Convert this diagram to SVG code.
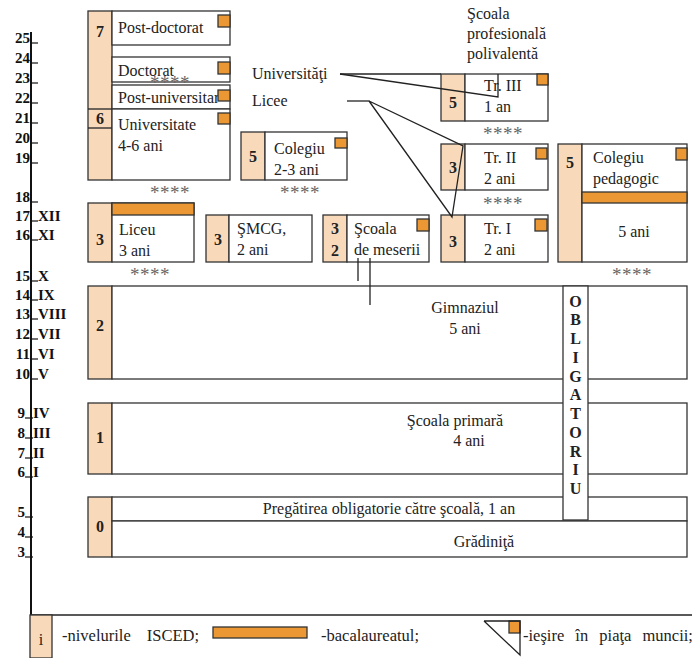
<svg xmlns="http://www.w3.org/2000/svg" width="692" height="658" viewBox="0 0 692 658">
<style>
.pe{fill:#F8DABA;stroke:#333;stroke-width:1.3}
.bx{fill:#fff;stroke:#333;stroke-width:1.3}
.sq{fill:#EB9733;stroke:#333;stroke-width:1.3}
.t{font-family:"Liberation Serif",serif;font-size:16px;fill:#222}
.c{text-anchor:middle}
.lv{font-family:"Liberation Serif",serif;font-size:16px;font-weight:bold;fill:#222;text-anchor:middle}
.ax{font-family:"Liberation Serif",serif;font-size:15px;font-weight:bold;fill:#111}
.ae{text-anchor:end}
.st{font-family:"Liberation Serif",serif;font-size:19px;fill:#666;text-anchor:middle;letter-spacing:0.5px}
.ln{stroke:#222;stroke-width:1.3;fill:none}
.tk{stroke:#111;stroke-width:1.2}
</style>
<rect width="692" height="658" fill="#fff"/>

<g id="axis">
<line x1="31" y1="32" x2="31" y2="615" stroke="#111" stroke-width="2"/>
<g class="tk">
<line x1="31" y1="43" x2="38" y2="43"/><line x1="31" y1="63" x2="38" y2="63"/><line x1="31" y1="83" x2="38" y2="83"/>
<line x1="31" y1="103" x2="38" y2="103"/><line x1="31" y1="123" x2="38" y2="123"/><line x1="31" y1="143" x2="38" y2="143"/>
<line x1="31" y1="163" x2="38" y2="163"/><line x1="31" y1="202" x2="38" y2="202"/><line x1="31" y1="221" x2="38" y2="221"/>
<line x1="31" y1="240" x2="38" y2="240"/><line x1="31" y1="281" x2="38" y2="281"/><line x1="31" y1="300" x2="38" y2="300"/>
<line x1="31" y1="319" x2="38" y2="319"/><line x1="31" y1="339" x2="38" y2="339"/><line x1="31" y1="359" x2="38" y2="359"/>
<line x1="31" y1="379" x2="38" y2="379"/>
<line x1="25" y1="418" x2="33" y2="418"/><line x1="25" y1="438" x2="33" y2="438"/><line x1="25" y1="458" x2="33" y2="458"/>
<line x1="25" y1="477" x2="33" y2="477"/><line x1="25" y1="517" x2="33" y2="517"/><line x1="25" y1="537" x2="33" y2="537"/>
<line x1="25" y1="557" x2="33" y2="557"/>
</g>
<g class="ax">
<text class="ae" x="30" y="43">25</text><text class="ae" x="30" y="63">24</text><text class="ae" x="30" y="83">23</text>
<text class="ae" x="30" y="103">22</text><text class="ae" x="30" y="123">21</text><text class="ae" x="30" y="143">20</text>
<text class="ae" x="30" y="163">19</text><text class="ae" x="30" y="202">18</text><text class="ae" x="30" y="221">17</text>
<text class="ae" x="30" y="240">16</text><text class="ae" x="30" y="281">15</text><text class="ae" x="30" y="300">14</text>
<text class="ae" x="30" y="319">13</text><text class="ae" x="30" y="339">12</text><text class="ae" x="30" y="359">11</text>
<text class="ae" x="30" y="379">10</text>
<text class="ae" x="25" y="418">9</text><text class="ae" x="25" y="438">8</text><text class="ae" x="25" y="458">7</text>
<text class="ae" x="25" y="477">6</text><text class="ae" x="25" y="517">5</text><text class="ae" x="25" y="537">4</text>
<text class="ae" x="25" y="557">3</text>
<text x="38" y="221">XII</text><text x="38" y="240">XI</text><text x="38" y="281">X</text><text x="38" y="300">IX</text>
<text x="38" y="319">VIII</text><text x="38" y="339">VII</text><text x="38" y="359">VI</text><text x="38" y="379">V</text>
<text x="33" y="418">IV</text><text x="33" y="438">III</text><text x="33" y="458">II</text><text x="33" y="477">I</text>
</g>
</g>

<g id="level7-6">
<rect class="pe" x="88" y="11" width="24" height="169"/>
<line class="ln" x1="88" y1="109" x2="112" y2="109"/>
<line class="ln" x1="88" y1="128" x2="112" y2="128"/>
<text class="lv" x="100" y="37">7</text>
<text class="lv" x="100" y="124">6</text>
</g>
<g id="post-doctorat">
<rect class="bx" x="112" y="11" width="118" height="34"/>
<rect class="sq" x="218" y="15" width="12" height="12"/>
<text class="t" x="118" y="33">Post-doctorat</text>
</g>
<g id="doctorat">
<rect class="bx" x="112" y="57" width="118" height="25"/>
<rect class="sq" x="218" y="62" width="12" height="12"/>
<text class="t" x="118" y="76">Doctorat</text>
</g>
<g id="post-universitar">
<rect class="bx" x="112" y="85" width="118" height="24"/>
<text class="t" x="118" y="103">Post-universitar</text>
<rect class="sq" x="218" y="90" width="12" height="11"/>
</g>
<g id="universitate">
<rect class="bx" x="112" y="109" width="118" height="71"/>
<rect class="sq" x="218" y="113" width="12" height="11"/>
<text class="t" x="118" y="130">Universitate</text>
<text class="t" x="118" y="151">4-6 ani</text>
</g>

<g id="colegiu">
<rect class="pe" x="241" y="132" width="24" height="48"/>
<rect class="bx" x="265" y="132" width="82" height="48"/>
<rect class="sq" x="335" y="138" width="12" height="10"/>
<text class="lv" x="253" y="162">5</text>
<text class="t" x="274" y="154">Colegiu</text>
<text class="t" x="274" y="175">2-3 ani</text>
</g>

<g id="labels">
<text class="t" x="252" y="79">Universităţi</text>
<text class="t" x="252" y="106">Licee</text>
<text class="t" x="467" y="19">Şcoala</text>
<text class="t" x="467" y="39">profesională</text>
<text class="t" x="467" y="59">polivalentă</text>
</g>

<g id="tr3">
<rect class="pe" x="441" y="74" width="24" height="47"/>
<rect class="bx" x="465" y="74" width="83" height="47"/>
<rect class="sq" x="537" y="74" width="11" height="11"/>
<text class="lv" x="453" y="108">5</text>
<text class="t" x="484" y="91">Tr. III</text>
<text class="t" x="484" y="112">1 an</text>
</g>
<g id="tr2">
<rect class="pe" x="441" y="144" width="24" height="46"/>
<rect class="bx" x="465" y="144" width="83" height="46"/>
<rect class="sq" x="536" y="148" width="11" height="11"/>
<text class="lv" x="453" y="173">3</text>
<text class="t" x="484" y="163">Tr. II</text>
<text class="t" x="484" y="184">2 ani</text>
</g>
<g id="tr1">
<rect class="pe" x="441" y="215" width="24" height="47"/>
<rect class="bx" x="465" y="215" width="83" height="47"/>
<rect class="sq" x="535" y="219" width="12" height="12"/>
<text class="lv" x="453" y="247">3</text>
<text class="t" x="484" y="234">Tr. I</text>
<text class="t" x="484" y="255">2 ani</text>
</g>
<g id="colegiu-pedagogic">
<rect class="pe" x="558" y="144" width="24" height="118"/>
<rect class="bx" x="582" y="144" width="105" height="118"/>
<rect class="sq" x="676" y="148" width="11" height="12"/>
<rect class="sq" x="582" y="192" width="105" height="11"/>
<text class="lv" x="570" y="168">5</text>
<text class="t" x="593" y="163">Colegiu</text>
<text class="t" x="593" y="184">pedagogic</text>
<text class="t c" x="634" y="237">5 ani</text>
</g>

<g id="liceu">
<rect class="pe" x="88" y="203" width="24" height="59"/>
<rect class="bx" x="112" y="203" width="82" height="59"/>
<rect class="sq" x="112" y="203" width="82" height="12"/>
<text class="lv" x="100" y="245">3</text>
<text class="t" x="119" y="235">Liceu</text>
<text class="t" x="119" y="256">3 ani</text>
</g>
<g id="smcg">
<rect class="pe" x="206" y="215" width="23" height="47"/>
<rect class="bx" x="229" y="215" width="83" height="47"/>
<text class="lv" x="218" y="245">3</text>
<text class="t" x="237" y="234">ŞMCG,</text>
<text class="t" x="237" y="255">2 ani</text>
</g>
<g id="scoala-meserii">
<rect class="pe" x="323" y="215" width="24" height="47"/>
<rect class="bx" x="347" y="215" width="82" height="47"/>
<rect class="sq" x="417" y="219" width="12" height="12"/>
<text class="lv" x="335" y="234">3</text>
<text class="lv" x="335" y="256">2</text>
<text class="t" x="354" y="234">Şcoala</text>
<text class="t" x="354" y="255">de meserii</text>
</g>

<g id="gimnaziul">
<rect class="pe" x="88" y="286" width="24" height="93"/>
<rect class="bx" x="112" y="286" width="575" height="93"/>
<text class="lv" x="100" y="331">2</text>
<text class="t c" x="465" y="313">Gimnaziul</text>
<text class="t c" x="465" y="334">5 ani</text>
</g>
<g id="scoala-primara">
<rect class="pe" x="88" y="403" width="24" height="71"/>
<rect class="bx" x="112" y="403" width="575" height="71"/>
<text class="lv" x="100" y="443">1</text>
<text class="t c" x="455" y="426">Şcoala primară</text>
<text class="t c" x="469" y="446">4 ani</text>
</g>
<g id="pregatire">
<rect class="pe" x="88" y="497" width="24" height="60"/>
<rect class="bx" x="112" y="497" width="575" height="24"/>
<rect class="bx" x="112" y="521" width="575" height="36"/>
<text class="lv" x="100" y="532">0</text>
<text class="t c" x="389" y="514">Pregătirea obligatorie către şcoală, 1 an</text>
<text class="t c" x="484" y="547">Grădiniţă</text>
</g>

<g id="obligatoriu">
<rect class="bx" x="563" y="286" width="25" height="234"/>
<g class="lv">
<text x="575.5" y="306.5">O</text><text x="575.5" y="325.2">B</text><text x="575.5" y="344">L</text>
<text x="575.5" y="362.7">I</text><text x="575.5" y="381.5">G</text><text x="575.5" y="400.2">A</text>
<text x="575.5" y="419">T</text><text x="575.5" y="437.7">O</text><text x="575.5" y="456.5">R</text>
<text x="575.5" y="475.2">I</text><text x="575.5" y="494">U</text>
</g>
</g>

<g id="stars" class="st">
<text x="170" y="89">****</text>
<text x="170" y="199">****</text>
<text x="300" y="199">****</text>
<text x="503" y="140">****</text>
<text x="503" y="210">****</text>
<text x="150" y="281">****</text>
<text x="632" y="281">****</text>
</g>

<g id="connectors" class="ln">
<line x1="340" y1="74" x2="441" y2="74"/>
<polyline points="340,74 498,97 498,74"/>
<line x1="347" y1="101" x2="369" y2="101"/>
<polyline points="369,101 463,146 452,217 369,101"/>
<line x1="358" y1="258" x2="358" y2="281"/>
<line x1="370" y1="258" x2="370" y2="305"/>
</g>

<g id="legend">
<line x1="31" y1="615" x2="692" y2="615" stroke="#222" stroke-width="1.5"/>
<rect class="pe" x="30" y="615" width="22" height="43"/>
<text class="t c" x="41" y="645">i</text>
<text class="t" x="62" y="641" style="font-size:16.5px;word-spacing:12px">-nivelurile ISCED;</text>
<rect class="sq" x="213" y="627" width="94" height="11"/>
<text class="t" x="321" y="641" style="font-size:16.5px">-bacalaureatul;</text>
<rect class="sq" x="509" y="621" width="11" height="12"/>
<polyline class="ln" points="484,621 520,621 520,655 484,621"/>
<text class="t" x="523" y="641" style="font-size:16.5px;word-spacing:7px">-ieşire în piaţa muncii;</text>
</g>
</svg>
